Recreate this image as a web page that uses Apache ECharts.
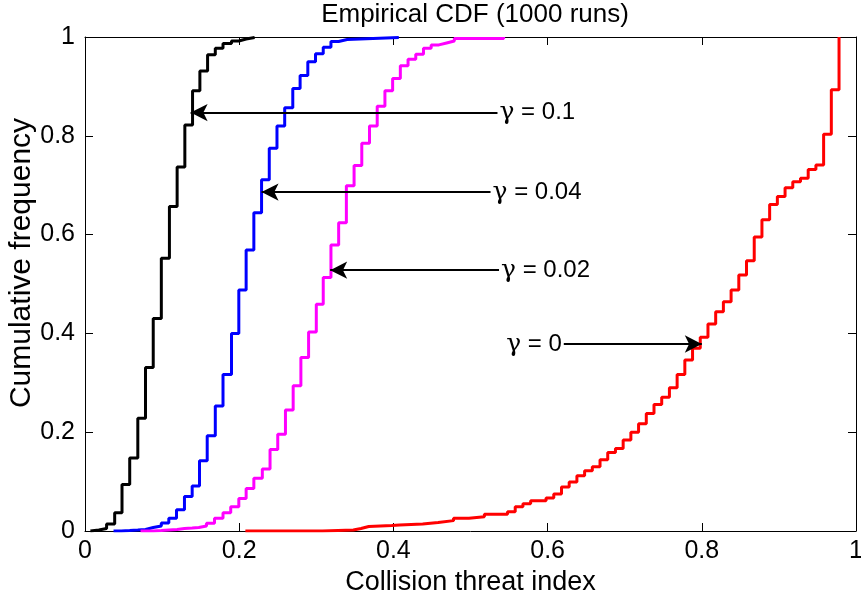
<!DOCTYPE html>
<html><head><meta charset="utf-8">
<script src="https://cdn.jsdelivr.net/npm/echarts@6/dist/echarts.min.js"></script>
<style>html,body{margin:0;padding:0;background:#fff}#c{width:861px;height:598px}</style>
</head><body><div id="c"></div>
<script>
// gamma = 0.1 (black)
const blackX = [0.007, 0.007, 0.018, 0.028, 0.0385, 0.048, 0.058, 0.0685, 0.0785, 0.0885, 0.099, 0.1095, 0.1195, 0.1295, 0.1395, 0.149, 0.159, 0.169, 0.179, 0.19, 0.1995, 0.209, 0.22];
const blackY = [0, 0.002, 0.005, 0.014, 0.037, 0.094, 0.148, 0.228, 0.331, 0.430, 0.552, 0.657, 0.737, 0.822, 0.891, 0.931, 0.964, 0.977, 0.987, 0.992, 0.996, 0.999, 1];
// gamma = 0.04 (blue)
const blueX = [0.037, 0.047, 0.058, 0.0685, 0.0785, 0.0885, 0.099, 0.1087, 0.1187, 0.129, 0.139, 0.1485, 0.1585, 0.169, 0.179, 0.19, 0.1995, 0.209, 0.219, 0.229, 0.239, 0.249, 0.259, 0.2695, 0.279, 0.289, 0.299, 0.309, 0.319, 0.329, 0.34, 0.407];
const blueY = [0, 0.001, 0.002, 0.003, 0.007, 0.010, 0.016, 0.026, 0.043, 0.070, 0.091, 0.142, 0.193, 0.253, 0.317, 0.400, 0.488, 0.569, 0.644, 0.711, 0.775, 0.820, 0.857, 0.896, 0.922, 0.950, 0.966, 0.979, 0.991, 0.995, 0.999, 1];
// gamma = 0.02 (magenta)
const magentaX = [0.072, 0.0885, 0.099, 0.109, 0.1195, 0.129, 0.139, 0.1476, 0.1576, 0.168, 0.179, 0.189, 0.1995, 0.209, 0.219, 0.23, 0.24, 0.25, 0.26, 0.27, 0.28, 0.29, 0.30, 0.309, 0.319, 0.329, 0.339, 0.349, 0.359, 0.369, 0.379, 0.389, 0.399, 0.409, 0.419, 0.429, 0.439, 0.449, 0.459, 0.469, 0.479, 0.543];
const magentaY = [0, 0.001, 0.002, 0.003, 0.005, 0.006, 0.007, 0.010, 0.0155, 0.026, 0.037, 0.049, 0.066, 0.086, 0.107, 0.1255, 0.165, 0.196, 0.245, 0.294, 0.351, 0.403, 0.459, 0.513, 0.579, 0.624, 0.699, 0.740, 0.785, 0.820, 0.860, 0.891, 0.916, 0.942, 0.955, 0.965, 0.977, 0.984, 0.988, 0.992, 0.997, 1];
// gamma = 0 (red)
const redX = [0.208, 0.308, 0.348, 0.358, 0.368, 0.398, 0.408, 0.438, 0.458, 0.478, 0.498, 0.518, 0.548, 0.558, 0.568, 0.578, 0.598, 0.608, 0.618, 0.628, 0.638, 0.648, 0.658, 0.668, 0.678, 0.688, 0.698, 0.708, 0.718, 0.728, 0.738, 0.748, 0.758, 0.768, 0.778, 0.788, 0.798, 0.808, 0.818, 0.828, 0.838, 0.848, 0.858, 0.868, 0.878, 0.888, 0.898, 0.908, 0.918, 0.928, 0.938, 0.948, 0.958, 0.968, 0.978];
const redY = [0, 0.002, 0.005, 0.009, 0.011, 0.012, 0.014, 0.017, 0.021, 0.026, 0.029, 0.034, 0.039, 0.049, 0.055, 0.061, 0.067, 0.075, 0.089, 0.099, 0.112, 0.122, 0.130, 0.144, 0.159, 0.167, 0.184, 0.200, 0.217, 0.238, 0.256, 0.271, 0.290, 0.317, 0.346, 0.370, 0.392, 0.419, 0.444, 0.464, 0.488, 0.518, 0.547, 0.595, 0.630, 0.661, 0.677, 0.695, 0.707, 0.714, 0.732, 0.741, 0.803, 0.893, 1];

// annotations
const annGamma = ['0.1', '0.04', '0.02', '0'];
const annFromX = [0.535, 0.526, 0.537, 0.621];
const annToX = [0.137, 0.229, 0.318, 0.800];
const annY = [0.847, 0.686, 0.528, 0.3785];

const xTicks = [0, 0.2, 0.4, 0.6, 0.8, 1];
const yTicks = [0, 0.2, 0.4, 0.6, 0.8, 1];

const FONT = '"Liberation Sans", Arial, Helvetica, sans-serif';
const chart = echarts.init(document.getElementById('c'));
function pairs(xs, ys) { return xs.map((x, i) => [x, ys[i]]); }
function curve(name, xs, ys, color) {
  return {
    name, type: 'line', step: 'end', data: pairs(xs, ys), symbol: 'none', showSymbol: false,
    lineStyle: { color, width: 3 }, itemStyle: { color }, animation: false, silent: true, z: 3
  };
}
const axisCommon = {
  type: 'value', min: xTicks[0], max: xTicks[xTicks.length - 1], interval: xTicks[1] - xTicks[0],
  splitLine: { show: false },
  axisLine: { show: true, onZero: false, lineStyle: { color: '#000', width: 1 } },
  axisTick: { show: true, inside: true, length: 8, lineStyle: { color: '#000', width: 1 } }
};
const option = {
  animation: false,
  backgroundColor: '#fff',
  title: {
    text: 'Empirical CDF (1000 runs)', left: 470, top: -3, textAlign: 'center',
    textStyle: { fontFamily: FONT, fontSize: 26, fontWeight: 'normal', color: '#000' }
  },
  graphic: [{
    type: 'text', x: 22, y: 263, rotation: Math.PI / 2, silent: true,
    style: { text: 'Cumulative frequency', font: '30px "Liberation Sans", Arial, sans-serif', fill: '#000',
      align: 'center', verticalAlign: 'middle' }
  }],
  grid: { left: 85, right: 5, top: 37, bottom: 67, show: false, containLabel: false, outerBoundsMode: 'none' },
  xAxis: [
    Object.assign({}, axisCommon, {
      position: 'bottom',
      axisLabel: { fontFamily: FONT, fontSize: 25, color: '#000', margin: 8 },
      name: 'Collision threat index', nameLocation: 'middle', nameGap: 32,
      nameTextStyle: { fontFamily: FONT, fontSize: 27, color: '#000' }
    }),
    Object.assign({}, axisCommon, { position: 'top', axisLabel: { show: false } })
  ],
  yAxis: [
    Object.assign({}, axisCommon, {
      min: yTicks[0], max: yTicks[yTicks.length - 1], interval: yTicks[1] - yTicks[0],
      position: 'left',
      axisLabel: { fontFamily: FONT, fontSize: 25, color: '#000', margin: 10 }
    }),
    Object.assign({}, axisCommon, {
      min: yTicks[0], max: yTicks[yTicks.length - 1], interval: yTicks[1] - yTicks[0],
      position: 'right', axisLabel: { show: false }
    })
  ],
  series: [
    curve('γ = 0.1', blackX, blackY, '#000000'),
    curve('γ = 0.04', blueX, blueY, '#0000ff'),
    curve('γ = 0.02', magentaX, magentaY, '#ff00ff'),
    curve('γ = 0', redX, redY, '#ff0000'),
    {
      type: 'line', data: [], silent: true, z: 5,
      markLine: {
        silent: true, animation: false, symbol: ['none', 'arrow'], symbolSize: [13, 17],
        lineStyle: { color: '#000', width: 2, type: 'solid', opacity: 1 },
        label: { show: false }, emphasis: { disabled: true },
        data: annGamma.map((t, i) => [{ coord: [annFromX[i], annY[i]] }, { coord: [annToX[i], annY[i]] }])
      }
    },
    {
      type: 'scatter', silent: true, symbolSize: 0, z: 6,
      itemStyle: { color: '#000', opacity: 1 },
      data: annGamma.map((t, i) => ({
        name: 'γ = ' + t, value: [annFromX[i], annY[i]],
        label: {
          show: true, position: i === 3 ? 'left' : 'right', distance: 2, color: '#000', opacity: 1,
          formatter: '{g|γ}{t| = ' + t + '}',
          rich: {
            g: { fontFamily: '"DejaVu Serif", serif', fontSize: 25, color: '#000' },
            t: { fontFamily: FONT, fontSize: 24, color: '#000' }
          }
        }
      }))
    }
  ]
};
chart.setOption(option);
</script>
</body></html>
